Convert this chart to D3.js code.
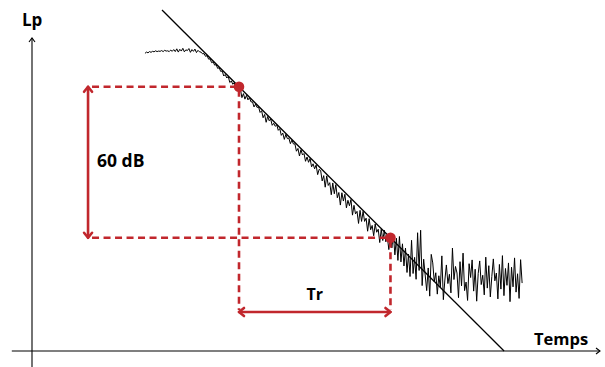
<!DOCTYPE html>
<html><head><meta charset="utf-8">
<script src="https://cdn.jsdelivr.net/npm/d3@7"></script>
<style>
body{margin:0;background:#fff}
svg{display:block}
text{font-family:"Open Sans",sans-serif;font-weight:700;fill:#000}
</style>
</head><body>
<svg id="c" width="605" height="367"></svg>
<script>
// Measured decay signal (dB), sampled every 0.012 s from t = 0.895 s
const sampleStart = 0.895, sampleStep = 0.012;
const levels = [
118.3,118.8,118.5,119.0,118.7,119.1,118.9,119.3,119.0,119.2,
119.1,119.4,119.0,119.5,119.2,119.3,119.0,119.6,119.1,119.8,
119.0,120.1,118.8,119.9,119.2,120.3,118.9,119.7,119.4,120.2,
118.7,119.8,119.1,120.0,118.6,119.5,118.9,
118.8,118.1,118.2,117.1,117.4,116.0,116.1,114.6,114.9,113.6,113.8,112.3,
112.6,111.1,111.3,109.3,109.9,108.5,109.1,106.7,107.3,106.0,
106.6,103.9,104.8,103.5,104.1,100.7,102.3,100.1,101.6,99.8,
100.7,99.0,99.0,97.0,98.1,96.8,97.0,94.8,95.5,92.7,
94.0,90.9,93.2,91.5,92.2,89.7,90.5,89.3,89.9,87.7,
88.4,85.7,86.6,84.1,86.1,84.4,84.6,82.4,83.8,82.3,
82.3,79.4,80.5,77.5,80.0,77.9,78.5,75.4,77.1,75.0,
76.5,73.2,74.4,72.4,73.9,70.1,72.2,
71.7,67.6,69.7,65.1,69.6,65.8,66.9,62.1,66.8,62.5,
66.1,60.9,63.0,58.0,62.9,59.6,62.3,56.9,59.9,57.7,
60.2,54.0,57.9,54.5,55.5,50.7,55.9,51.5,55.5,51.5,
52.8,47.6,52.6,48.2,49.9,45.8,50.5,47.2,48.4,43.1,
48.4,43.9,48.0,43.4,45.3,40.3,45.9,
41.0,46.5,38.2,44.8,36.0,45.5,35.4,42.6,33.8,40.9,
31.2,38.5,29.6,44.0,30.8,37.2,28.5,47.0,32.0,48.0,
26.0,36.5,30.2,24.0,33.0,21.8,38.4,35.0,27.5,31.1,
22.6,29.9,25.3,37.8,20.4,28.2,34.2,26.8,30.5,23.1,
40.9,28.4,33.6,31.0,21.2,35.5,25.9,38.9,24.0,27.4,
20.1,34.7,29.2,36.2,23.8,32.5,19.8,30.8,35.8,26.4,
30.1,22.3,37.3,25.0,33.9,21.5,29.6,36.6,27.9,31.0,
20.7,34.4,24.6,37.9,22.0,32.8,26.1,35.0,19.6,33.3,
25.5,37.0,23.4,30.7,20.9,36.3,27.0
];
// Ideal linear decay (start / end)
const decayTimes = [1.03, 3.74];
const decayLevels = [135.5, 0];
// Tr markers
const markerTimes = [1.64, 2.84];
const markerLevels = [105, 45];
const dropLabel = "60 dB";
const trLabel = "Tr";
const axisLabels = ["Lp", "Temps"];

const RED = "#c1272d";
const svg = d3.select("#c");
const x = d3.scaleLinear().domain([0, 4.5]).range([32, 600]);
const y = d3.scaleLinear().domain([0, 124]).range([351, 39]);

// axes
const g = svg.append("g");
g.append("line").attr("x1", x(-0.16)).attr("x2", x(4.5)).attr("y1", y(0)).attr("y2", y(0))
  .attr("stroke", "#000").attr("stroke-width", 1.1);
g.append("line").attr("x1", x(0)).attr("x2", x(0)).attr("y1", y(-6.4)).attr("y2", y(124.4))
  .attr("stroke", "#000").attr("stroke-width", 1.1);
g.append("path").attr("d", `M${x(0)-3},${y(124.4)+4}L${x(0)},${y(124.4)}L${x(0)+3},${y(124.4)+4}`)
  .attr("fill", "none").attr("stroke", "#000").attr("stroke-width", 1.1);
g.append("path").attr("d", `M${x(4.5)-4},${y(0)-3}L${x(4.5)},${y(0)}L${x(4.5)-4},${y(0)+3}`)
  .attr("fill", "none").attr("stroke", "#000").attr("stroke-width", 1.1);

// measured signal
const sig = levels.map((L, i) => ({t: sampleStart + sampleStep * i, L}));
svg.append("path").datum(sig)
  .attr("d", d3.line().x(d => x(d.t)).y(d => y(d.L)))
  .attr("fill", "none").attr("stroke", "#000").attr("stroke-width", 1.0)
  .attr("stroke-linejoin", "round");

// ideal decay line
const dl = decayTimes.map((t, i) => ({t, L: decayLevels[i]}));
svg.append("path").datum(dl)
  .attr("d", d3.line().x(d => x(d.t)).y(d => y(d.L)))
  .attr("fill", "none").attr("stroke", "#000").attr("stroke-width", 1.3);

// dashed guides
const arrowT = 0.444, arrowL = 15.5;
const dash = (x1, y1, x2, y2) => svg.append("line")
  .attr("x1", x1).attr("y1", y1).attr("x2", x2).attr("y2", y2)
  .attr("stroke", RED).attr("stroke-width", 2.6).attr("stroke-dasharray", "7,4.5");
dash(x(arrowT) + 4, y(markerLevels[0]), x(markerTimes[0]), y(markerLevels[0]));
dash(x(arrowT) + 4, y(markerLevels[1]), x(markerTimes[1]), y(markerLevels[1]));
dash(x(markerTimes[0]), y(markerLevels[0]) + 3, x(markerTimes[0]), y(arrowL) - 2);
dash(x(markerTimes[1]), y(markerLevels[1]) + 3, x(markerTimes[1]), y(arrowL) - 2);

// solid arrows
const solid = (d) => svg.append("path").attr("d", d).attr("fill", "none")
  .attr("stroke", RED).attr("stroke-width", 2.6).attr("stroke-linecap", "round").attr("stroke-linejoin", "round");
const ax = x(arrowT), ay1 = y(markerLevels[0]), ay2 = y(markerLevels[1]);
solid(`M${ax},${ay1}L${ax},${ay2}`);
solid(`M${ax-4},${ay1+5}L${ax},${ay1}L${ax+4},${ay1+5}`);
solid(`M${ax-4},${ay2-5}L${ax},${ay2}L${ax+4},${ay2-5}`);
const hy = y(arrowL), hx1 = x(markerTimes[0]), hx2 = x(markerTimes[1]);
solid(`M${hx1},${hy}L${hx2},${hy}`);
solid(`M${hx1+5},${hy-4}L${hx1},${hy}L${hx1+5},${hy+4}`);
solid(`M${hx2-5},${hy-4}L${hx2},${hy}L${hx2-5},${hy+4}`);

// marker dots
svg.selectAll("circle.m").data(markerTimes).join("circle").attr("class", "m")
  .attr("cx", d => x(d)).attr("cy", (d, i) => y(markerLevels[i])).attr("r", 5.3).attr("fill", RED);

// labels
svg.append("text").attr("x", 22).attr("y", 26).attr("font-size", 17).text(axisLabels[0]);
svg.append("text").attr("x", 534).attr("y", 345).attr("font-size", 16.5).text(axisLabels[1]);
svg.append("text").attr("x", 97).attr("y", 167).attr("font-size", 17.5).text(dropLabel);
svg.append("text").attr("x", (hx1 + hx2) / 2).attr("y", 300).attr("text-anchor", "middle").attr("font-size", 16).text(trLabel);
</script>
</body></html>
